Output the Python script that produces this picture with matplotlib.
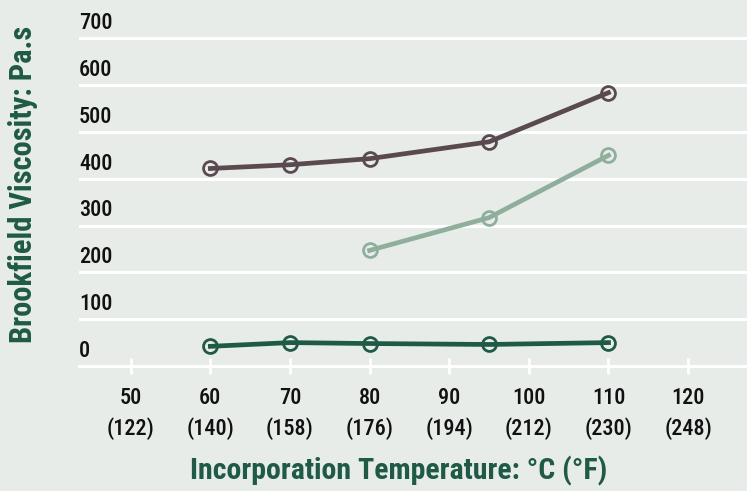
import matplotlib
matplotlib.use("Agg")
import matplotlib.pyplot as plt

# data
temp_c = [50, 60, 70, 80, 90, 100, 110, 120]
temp_f = [122, 140, 158, 176, 194, 212, 230, 248]
y_ticks = [0, 100, 200, 300, 400, 500, 600, 700]

dark_x = [60, 70, 80, 95, 110]
dark_y = [384, 392, 405, 441, 546]

light_x = [80, 95, 110]
light_y = [209, 279, 412]

green_x = [60, 70, 80, 95, 110]
green_y = [4, 12, 10, 8, 12]

BG = "#e8ece9"
DARK = "#5a4a50"
LIGHT = "#8fae9c"
GREEN = "#1e5a45"
FONT = ["Roboto Condensed", "Open Sans Condensed", "Liberation Sans Narrow",
        "DejaVu Sans"]
GRID_OFFSET = 38

fig = plt.figure(figsize=(7.47, 4.91), dpi=100, facecolor=BG)
ax = fig.add_axes([79 / 747, 1 - 366 / 491, 1 - 79 / 747, 366 / 491])
ax.set_facecolor(BG)

for v in y_ticks[1:]:
    ax.axhline(v - GRID_OFFSET, color="white", lw=2.2, zorder=1)

style = dict(marker="o", markersize=10, markerfacecolor="none",
             markeredgewidth=2, lw=3.4, zorder=3)
ax.plot(dark_x, dark_y, color=DARK, **style)
ax.plot(light_x, light_y, color=LIGHT, **style)
ax.plot(green_x, green_y, color=GREEN, **style)

ax.set_xlim(43.5, 127.4)
ax.set_ylim(-GRID_OFFSET, 744)

for s in ["top", "right", "left"]:
    ax.spines[s].set_visible(False)
ax.spines["bottom"].set_color("white")
ax.spines["bottom"].set_linewidth(2.2)

ax.set_xticks(temp_c)
ax.set_xticklabels([f"{c}\n({f})" for c, f in zip(temp_c, temp_f)],
                   family=FONT, fontstretch="condensed", fontsize=16,
                   fontweight="medium", linespacing=1.45, color="#111111")
ax.tick_params(axis="x", direction="inout", length=12, width=2,
               color="white", pad=9)

ax.set_yticks(y_ticks)
ax.set_yticklabels([str(v) for v in y_ticks], family=FONT,
                   fontstretch="condensed", fontsize=16, fontweight="medium",
                   ha="left", color="#111111")
ax.tick_params(axis="y", length=0, pad=0)

fig.text(0.534, 0.041, "Incorporation Temperature: °C (°F)", color=GREEN,
         family=FONT, fontstretch="condensed", fontsize=21.5,
         fontweight="bold", ha="center", va="center")
fig.text(0.031, 0.625, "Brookfield Viscosity: Pa.s", color=GREEN,
         family=FONT, fontstretch="condensed", fontsize=22,
         fontweight="bold", ha="center", va="center", rotation=90)

fig.savefig("out.png", dpi=100, facecolor=BG)
